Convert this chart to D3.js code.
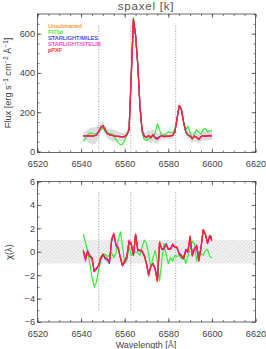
<!DOCTYPE html>
<html>
<head>
<meta charset="utf-8">
<script src="https://cdn.jsdelivr.net/npm/d3@7"></script>
<style>
  body { margin: 0; background: #fff; }
  svg { display: block; font-family: "Liberation Sans", Arial, sans-serif; }
  .axis path { display: none; }
  .axis line { stroke: #444; stroke-width: 0.7; }
  .axis text { fill: #444; font-size: 9.2px; }
</style>
</head>
<body>
<div id="chart"></div>
<script>
// wavelength grid (Angstrom)
let waves = d3.range(6541, 6601);

// flux, erg s-1 cm-2 A-1
let fluxUnsub = [80,80,80,81,80,79,85,101,123,133,113,93,86,83,81,78,77,76,75,77,86,112,385,672,592,442,232,106,79,73,80,72,84,70,66,75,80,77,78,77,80,82,99,168,234,214,151,101,85,79,68,78,73,63,76,81,78,80,80,80];
let fluxFit3d = [52,65,85,95,92,88,92,100,112,122,100,95,92,90,85,60,45,35,38,55,90,120,390,682,600,450,240,95,60,58,65,72,75,95,142,110,82,85,92,100,98,95,115,170,230,218,155,110,128,95,62,90,112,98,88,112,118,100,105,108];
let fluxMiles = [80,79,80,80,80,80,84,100,121,131,112,92,85,83,80,78,77,76,76,76,85,110,382,670,590,440,230,105,78,72,81,71,86,72,68,76,80,76,78,77,80,82,98,166,231,214,150,100,84,79,67,79,73,64,76,80,79,81,82,81];
let fluxStelib = [81,80,80,80,80,80,84,100,122,132,112,92,85,83,80,78,77,76,75,76,85,111,384,671,591,441,231,105,78,72,82,70,86,69,64,74,80,77,78,77,80,82,98,166,232,215,150,100,84,78,66,78,72,61,75,80,77,80,80,80];
let fluxPpxf = [80,79,80,80,80,80,84,100,122,132,112,92,85,83,80,78,77,76,75,76,85,110,380,675,590,440,230,105,78,72,82,70,86,68,62,74,80,76,78,77,80,82,98,165,232,215,150,100,84,78,66,78,72,60,75,80,77,80,80,80];
// half width of the grey uncertainty envelope
let fluxErr = [18,22,30,38,42,45,40,30,22,18,20,25,28,30,30,28,25,22,20,18,15,15,20,20,20,18,16,15,18,25,30,32,30,28,25,22,18,15,15,15,18,18,15,15,18,18,16,16,18,22,25,25,25,22,22,25,25,22,22,20];

// chi(lambda), bottom panel
let chiUnsub = [0.2,-0.5,0.1,-0.3,-0.5,-1.6,-1.5,-1.1,-0.5,-0.2,-0.5,-0.6,-0.8,1.0,1.6,0.6,0.3,-0.4,-1.1,-0.8,-0.4,0.9,0.8,-0.2,1.5,0.1,0.1,0.0,-0.3,-1.0,-2.1,-1.1,-1.0,-1.5,-2.6,0.9,0.2,0.3,0.6,0.2,0.2,0.6,0.4,0.4,-0.2,-0.4,-0.5,0.1,0.0,1.4,-0.3,0.2,0.5,-0.7,0.3,1.9,1.4,0.8,1.3,1.0];
let chiFit3d = [1.5,0.8,0.0,-1.0,-2.2,-3.0,-2.6,-1.6,-0.8,-0.3,-0.2,-0.4,-0.3,-0.1,-0.5,-0.1,1.0,1.7,0.5,-1.0,-0.7,0.5,-0.3,-0.2,0.0,-0.1,-0.3,0.4,1.0,0.7,-0.2,-1.4,-0.5,0.1,-0.8,-2.5,-0.8,0.7,-0.2,-1.0,-0.5,-0.8,-0.3,-0.4,-0.3,-0.6,-0.3,-1.0,-0.4,0.2,0.9,0.7,-0.8,0.0,-0.2,-0.3,0.1,0.2,-0.4,-0.5];
let chiMiles = [0.1,-0.6,0.1,-0.4,-0.6,-1.7,-1.4,-1.2,-0.6,-0.2,-0.6,-0.7,-1.0,0.9,1.5,0.5,0.3,-0.5,-1.2,-0.9,-0.5,0.8,0.6,-0.3,1.4,0.2,0.1,0.0,-0.4,-1.0,-1.9,-1.2,-1.1,-1.4,-2.4,0.7,0.3,0.2,0.7,0.2,0.3,0.5,0.4,0.3,-0.1,-0.3,-0.6,0.2,0.1,1.2,-0.2,0.3,0.4,-0.6,0.4,1.8,1.5,0.8,1.4,1.2];
let chiStelib = [0.0,-0.8,0.0,-0.3,-0.5,-1.6,-1.5,-1.2,-0.5,-0.3,-0.5,-0.6,-0.9,1.1,1.6,0.6,0.4,-0.5,-1.2,-0.8,-0.3,1.0,0.7,-0.3,1.5,0.1,0.2,0.1,-0.3,-1.1,-2.0,-1.2,-1.0,-1.6,-2.5,0.8,0.2,0.3,0.6,0.3,0.2,0.7,0.4,0.4,-0.2,-0.4,-0.6,0.1,-0.1,1.3,-0.4,0.2,0.6,-0.8,0.3,1.9,1.5,0.7,1.3,0.9];
let chiPpxf = [0.1,-0.6,0.0,-0.4,-0.5,-1.7,-1.5,-1.2,-0.5,-0.2,-0.5,-0.6,-0.9,1.0,1.5,0.6,0.3,-0.5,-1.2,-0.8,-0.4,0.9,0.7,-0.3,1.5,0.1,0.1,0.0,-0.3,-1.0,-2.0,-1.2,-1.0,-1.5,-2.5,0.8,0.2,0.3,0.6,0.2,0.2,0.6,0.4,0.4,-0.2,-0.4,-0.6,0.1,0.0,1.3,-0.3,0.2,0.5,-0.8,0.3,1.9,1.5,0.7,1.4,1.0];

let seriesNames = ["Unsubtracted", "FIT3d", "STARLIGHT/MILES", "STARLIGHT/STELIB", "pPXF"];
let seriesColors = ["#ff9a33", "#33ee33", "#3333ff", "#ff33cc", "#ff2222"];
let fluxSeries = [fluxUnsub, fluxFit3d, fluxMiles, fluxStelib, fluxPpxf];
let chiSeries = [chiUnsub, chiFit3d, chiMiles, chiStelib, chiPpxf];

// rest wavelengths of [NII], Halpha, [NII]
let lineWaves = [6548.1, 6562.8, 6583.4];

let xTicks = [6520, 6540, 6560, 6580, 6600, 6620];
let fluxTicks = [0, 200, 400, 600];
let chiTicks = [-6, -4, -2, 0, 2, 4, 6];

let W = 266, H = 349;
let svg = d3.select("#chart").append("svg")
    .attr("width", W)
    .attr("height", H);

let left = 37.5, right = 255.5;
let x = d3.scaleLinear().domain([6520, 6620]).range([left, right]);
let yTop = d3.scaleLinear().domain([-5, 700]).range([152.5, 14]);
let yBot = d3.scaleLinear().domain([-6, 6]).range([322, 181.5]);

// hatch pattern for the |chi|<1 band
let defs = svg.append("defs");
let pat = defs.append("pattern")
    .attr("id", "hatch")
    .attr("patternUnits", "userSpaceOnUse")
    .attr("width", 2.6).attr("height", 2.6)
    .attr("patternTransform", "rotate(45)");
pat.append("rect").attr("width", 2.6).attr("height", 2.6).attr("fill", "#f2f2f2");
pat.append("line").attr("x1", 0).attr("y1", 0).attr("x2", 0).attr("y2", 2.6)
    .attr("stroke", "#cfcfcf").attr("stroke-width", 1);

function drawAxes(g, y, yMajor, yMinor, xLabels, y0, y1) {
    let xMinor = d3.range(6520, 6621, 5);
    let ax = [
        [d3.axisBottom(x), y0, true],
        [d3.axisTop(x), y1, false]
    ];
    ax.forEach(([a, ty, lab]) => {
        g.append("g").attr("class", "axis")
            .attr("transform", `translate(0,${ty})`)
            .call(a.tickValues(xTicks).tickSize(-4).tickPadding(8.2)
                .tickFormat(lab && xLabels ? d3.format("d") : ""));
        g.append("g").attr("class", "axis")
            .attr("transform", `translate(0,${ty})`)
            .call(a.tickValues(xMinor).tickSize(-2).tickFormat(""));
    });
    g.append("g").attr("class", "axis")
        .attr("transform", `translate(${left},0)`)
        .call(d3.axisLeft(y).tickValues(yMajor).tickSize(-4).tickPadding(2.5).tickFormat(d3.format("d")));
    g.append("g").attr("class", "axis")
        .attr("transform", `translate(${left},0)`)
        .call(d3.axisLeft(y).tickValues(yMinor).tickSize(-2).tickFormat(""));
    g.append("g").attr("class", "axis")
        .attr("transform", `translate(${right},0)`)
        .call(d3.axisRight(y).tickValues(yMajor).tickSize(-4).tickFormat(""));
    g.append("g").attr("class", "axis")
        .attr("transform", `translate(${right},0)`)
        .call(d3.axisRight(y).tickValues(yMinor).tickSize(-2).tickFormat(""));
    // frame
    g.append("rect")
        .attr("x", left).attr("y", y1)
        .attr("width", right - left).attr("height", y0 - y1)
        .attr("fill", "none").attr("stroke", "#444").attr("stroke-width", 0.8);
}

// ---------- top panel ----------
let topPanel = svg.append("g");

let band = d3.area()
    .x((d, i) => x(waves[i]))
    .y0((d, i) => yTop(fluxUnsub[i] - fluxErr[i]))
    .y1((d, i) => yTop(fluxUnsub[i] + fluxErr[i]));
topPanel.append("path")
    .attr("d", band(waves))
    .attr("fill", "#dcdcdc");

topPanel.selectAll(".vline")
    .data(lineWaves)
    .enter()
    .append("line")
    .attr("x1", d => x(d)).attr("x2", d => x(d))
    .attr("y1", yTop(0)).attr("y2", yTop(650))
    .attr("stroke", "#888").attr("stroke-width", 0.8)
    .attr("stroke-dasharray", "1,1.6");

let fluxLine = d3.line()
    .x((d, i) => x(waves[i]))
    .y(d => yTop(d));
topPanel.selectAll(".flux")
    .data(fluxSeries)
    .enter()
    .append("path")
    .attr("d", d => fluxLine(d))
    .attr("fill", "none")
    .attr("stroke", (d, i) => seriesColors[i])
    .attr("stroke-width", 1.2)
    .attr("stroke-linejoin", "round");

drawAxes(topPanel, yTop, fluxTicks, d3.range(0, 701, 50), true, 152.5, 14);

// legend
topPanel.selectAll(".leg")
    .data(seriesNames)
    .enter()
    .append("text")
    .attr("x", 48)
    .attr("y", (d, i) => 28 + i * 6)
    .text(d => d)
    .attr("fill", (d, i) => seriesColors[i])
    .attr("stroke", (d, i) => seriesColors[i])
    .attr("stroke-width", 0.15)
    .attr("font-size", "5.7px");

svg.append("text")
    .attr("x", 146).attr("y", 10)
    .attr("text-anchor", "middle")
    .attr("font-size", "11.5px")
    .attr("letter-spacing", "0.8px")
    .attr("fill", "#555")
    .text("spaxel [k]");

let yl = svg.append("text")
    .attr("transform", "translate(11,83) rotate(-90)")
    .attr("text-anchor", "middle")
    .attr("font-size", "9.2px")
    .attr("fill", "#444");
yl.append("tspan").text("Flux [erg s");
yl.append("tspan").attr("dy", -3.5).attr("font-size", "6.3px").text("\u22121");
yl.append("tspan").attr("dy", 3.5).text(" cm");
yl.append("tspan").attr("dy", -3.5).attr("font-size", "6.3px").text("\u22122");
yl.append("tspan").attr("dy", 3.5).text(" \u00c5");
yl.append("tspan").attr("dy", -3.5).attr("font-size", "6.3px").text("\u22121");
yl.append("tspan").attr("dy", 3.5).text("]");

// ---------- bottom panel ----------
let botPanel = svg.append("g");

botPanel.append("rect")
    .attr("x", left).attr("width", right - left)
    .attr("y", yBot(1)).attr("height", yBot(-1) - yBot(1))
    .attr("fill", "url(#hatch)");

botPanel.selectAll(".vline")
    .data(lineWaves)
    .enter()
    .append("line")
    .attr("x1", d => x(d)).attr("x2", d => x(d))
    .attr("y1", yBot(-5)).attr("y2", yBot(5.1))
    .attr("stroke", "#888").attr("stroke-width", 0.8)
    .attr("stroke-dasharray", "1,1.6");

let chiLine = d3.line()
    .x((d, i) => x(waves[i]))
    .y(d => yBot(d));
botPanel.selectAll(".chi")
    .data(chiSeries)
    .enter()
    .append("path")
    .attr("d", d => chiLine(d))
    .attr("fill", "none")
    .attr("stroke", (d, i) => seriesColors[i])
    .attr("stroke-width", 1.2)
    .attr("stroke-linejoin", "round");

drawAxes(botPanel, yBot, chiTicks, d3.range(-6, 7, 1), true, 322, 181.5);

svg.append("text")
    .attr("x", 146).attr("y", 347.5)
    .attr("text-anchor", "middle")
    .attr("font-size", "9px")
    .attr("fill", "#444")
    .text("Wavelength [\u00c5]");

svg.append("text")
    .attr("transform", "translate(12,252) rotate(-90)")
    .attr("text-anchor", "middle")
    .attr("font-size", "9.2px")
    .attr("fill", "#444")
    .text("\u03c7(\u03bb)");
</script>
</body>
</html>
